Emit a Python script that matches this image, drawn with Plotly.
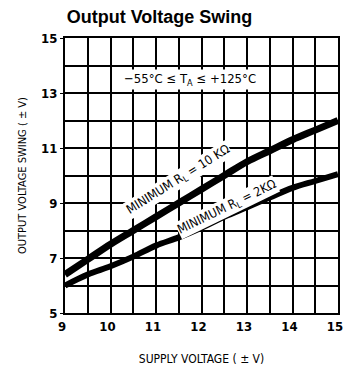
import plotly.graph_objects as go

supply_v = [9, 9.5, 10, 10.5, 11, 11.5, 12, 12.5, 13, 13.5, 14, 14.5, 15]
swing_10k = [6.4, 6.95, 7.5, 8.0, 8.5, 9.0, 9.5, 10.0, 10.5, 10.9, 11.3, 11.65, 12.0]
swing_2k = [6.0, 6.4, 6.7, 7.05, 7.45, 7.75, 8.1, 8.5, 8.85, 9.2, 9.55, 9.8, 10.05]

x_ticks = [9, 10, 11, 12, 13, 14, 15]
y_ticks = [5, 7, 9, 11, 13, 15]

narrow = "DejaVu Sans Condensed"

fig = go.Figure()
fig.add_trace(go.Scatter(x=supply_v, y=swing_10k, mode="lines",
                         line=dict(color="black", width=7, shape="spline")))
fig.add_trace(go.Scatter(x=supply_v, y=swing_2k, mode="lines",
                         line=dict(color="black", width=6, shape="spline")))

fig.update_xaxes(range=[9, 15], tickvals=x_ticks, showgrid=True, gridcolor="black", gridwidth=1.5,
                 minor=dict(dtick=0.5, showgrid=True, gridcolor="black", gridwidth=1.5),
                 showline=True, linecolor="black", linewidth=2, mirror=True, zeroline=False,
                 ticks="", automargin=False, ticklabeloverflow="allow", ticklabelshift=-3,
                 tickfont=dict(family=narrow, size=13, color="black", weight="bold"),
                 title=dict(text="SUPPLY VOLTAGE ( ± V)", font=dict(family=narrow, size=12, color="black"),
                            standoff=22))
fig.update_yaxes(range=[5, 15], tickvals=y_ticks, showgrid=True, gridcolor="black", gridwidth=1.5,
                 minor=dict(dtick=1, showgrid=True, gridcolor="black", gridwidth=1.5),
                 showline=True, linecolor="black", linewidth=2, mirror=True, zeroline=False,
                 ticks="outside", ticklen=3, tickcolor="black", automargin=False,
                 tickfont=dict(family=narrow, size=13, color="black", weight="bold"),
                 title=dict(text="OUTPUT VOLTAGE SWING ( ± V)", font=dict(family=narrow, size=11, color="black"),
                            standoff=12))

fig.add_annotation(x=11.75, y=13.5, text="−55°C ≤ T<sub>A</sub> ≤ +125°C", showarrow=False,
                   bgcolor="white", font=dict(family=narrow, size=13, color="black"))
fig.add_annotation(x=11.5, y=9.85, text="MINIMUM R<sub>L</sub> = 10 KΩ", showarrow=False, textangle=-32,
                   bgcolor="white", borderpad=0, font=dict(family=narrow, size=12.5, color="black"))
fig.add_annotation(x=12.55, y=8.85, text="MINIMUM R<sub>L</sub> = 2KΩ", showarrow=False, textangle=-26,
                   bgcolor="white", borderpad=0, font=dict(family=narrow, size=12.5, color="black"))

fig.update_layout(
    width=343, height=375,
    margin=dict(l=65, r=5, t=38, b=62),
    paper_bgcolor="white", plot_bgcolor="white",
    showlegend=False,
    title=dict(text="<b>Output Voltage Swing</b>", x=0.465, xanchor="center", y=0.955, yanchor="middle",
               automargin=False,
               font=dict(family="Liberation Sans, Arial, sans-serif", size=18, color="black")),
)

fig.write_html("out.html", config={"displayModeBar": False},
               post_script="document.body.style.margin='0';")
